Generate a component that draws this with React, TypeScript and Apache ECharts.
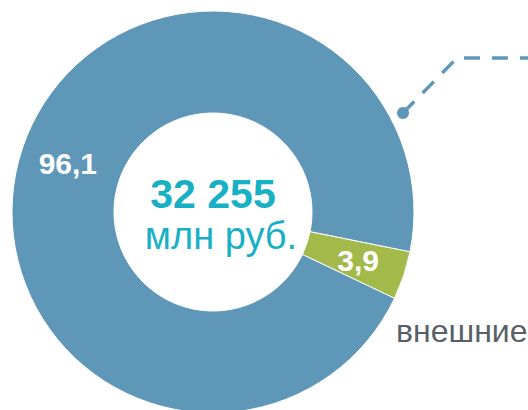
import React, { useEffect, useRef } from "react";
import * as echarts from "echarts";

const categories = ["внешние", "внутренние"];
const values = [3.9, 96.1];
const colors = ["#a3b94a", "#5f97b8"];
const totalLabel = "32 255";
const unitLabel = "млн руб.";
const calloutLabel = "внешние";

export default function App() {
  const ref = useRef<HTMLDivElement>(null);
  useEffect(() => {
    if (!ref.current) return;
    const chart = echarts.init(ref.current, null, { renderer: "svg" });
    const font = "Arial, 'Liberation Sans', sans-serif";
    chart.setOption({
      animation: false,
      backgroundColor: "#ffffff",
      series: [
        {
          type: "pie",
          center: [213, 212],
          radius: [99, 201],
          startAngle: -11.4,
          clockwise: true,
          silent: true,
          itemStyle: { borderColor: "#ffffff", borderWidth: 1 },
          label: {
            show: true,
            position: "inside",
            color: "#ffffff",
            fontSize: 30,
            fontWeight: "bold",
            fontFamily: font,
            formatter: (p: any) => String(p.value).replace(".", ","),
          },
          labelLine: { show: false },
          data: categories.map((c, i) => ({
            name: c,
            value: values[i],
            itemStyle: { color: colors[i] },
          })),
        },
      ],
      graphic: [
        {
          type: "text",
          x: 213,
          y: 194,
          style: {
            text: totalLabel,
            fill: "#17b0c4",
            font: `bold 41px ${font}`,
            align: "center",
            verticalAlign: "middle",
          },
        },
        {
          type: "text",
          x: 221,
          y: 236,
          style: {
            text: unitLabel,
            fill: "#17b0c4",
            font: `38px ${font}`,
            align: "center",
            verticalAlign: "middle",
          },
        },
        {
          type: "polyline",
          shape: { points: [[403, 113], [457, 58], [540, 58]] },
          style: { stroke: "#5f97b8", lineWidth: 3.5, lineDash: [16, 12], fill: null },
        },
        {
          type: "circle",
          shape: { cx: 403, cy: 113, r: 6 },
          style: { fill: "#5f97b8" },
        },
        {
          type: "text",
          x: 396,
          y: 331,
          style: {
            text: calloutLabel,
            fill: "#595f66",
            font: `32px ${font}`,
            align: "left",
            verticalAlign: "middle",
          },
        },
      ],
    });
    return () => chart.dispose();
  }, []);
  return (
    <div
      ref={ref}
      style={{ position: "fixed", left: 0, top: 0, width: 528, height: 410 }}
    />
  );
}
